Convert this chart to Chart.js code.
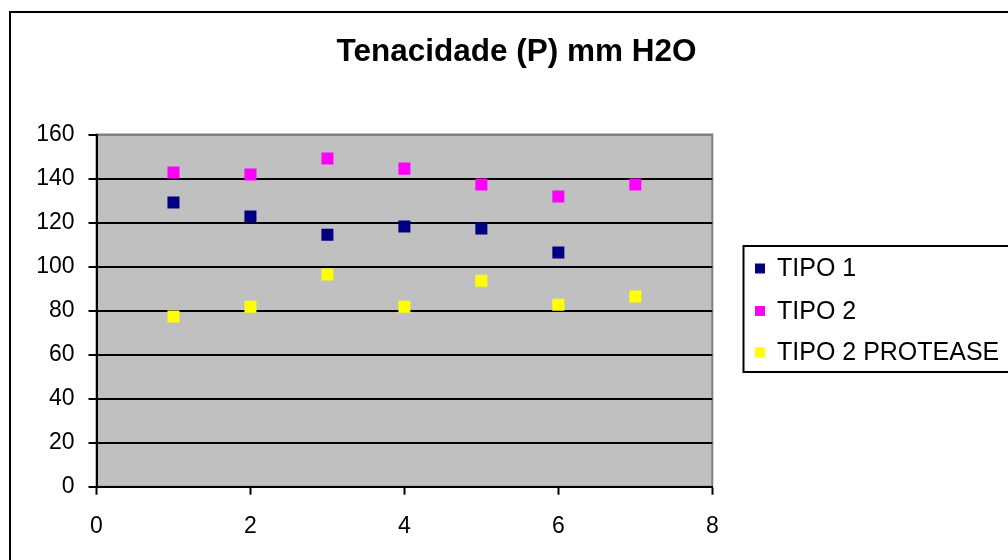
<!DOCTYPE html>
<html>
<head>
<meta charset="utf-8">
<script src="https://cdn.jsdelivr.net/npm/chart.js@4/dist/chart.umd.min.js"></script>
<style>
  html, body { margin: 0; padding: 0; background: #fff; overflow: hidden; }
  #wrap { position: relative; width: 1008px; height: 560px; overflow: hidden; }
  #frame { position: absolute; left: 9px; top: 11px; width: 1100px; height: 700px; border: 2px solid #000; }
  canvas { position: absolute; left: 0; top: 0; }
</style>
</head>
<body>
<div id="wrap">
  <div id="frame"></div>
  <canvas id="chart" width="1008" height="560"></canvas>
</div>
<script>
const chartTitle = 'Tenacidade (P) mm H2O';
const seriesNames = ['TIPO 1', 'TIPO 2', 'TIPO 2 PROTEASE'];
const seriesColors = ['#000080', '#FF00FF', '#FFFF00'];

// amostras 1..7
const amostras = [1, 2, 3, 4, 5, 6, 7];
const tipo1 = [129.1, 122.7, 114.5, 118.2, 117.3, 106.4];
const tipo2 = [142.7, 141.8, 149.1, 144.5, 137.3, 131.8, 137.3];
const tipo2Protease = [77.3, 81.8, 96.4, 81.8, 93.6, 82.7, 86.4];

const xTicks = [0, 2, 4, 6, 8];
const yTicks = [0, 20, 40, 60, 80, 100, 120, 140, 160];

function toPoints(values) {
    return values.map((v, i) => ({ x: amostras[i], y: v }));
}

const FONT = '"Liberation Sans", Arial, sans-serif';

// fundo cinza da area de plotagem
const plotBackground = {
    id: 'plotBackground',
    beforeDraw(chart) {
        const { ctx, chartArea: a } = chart;
        ctx.save();
        ctx.fillStyle = '#C0C0C0';
        ctx.fillRect(a.left, a.top, a.right - a.left, a.bottom - a.top);
        ctx.strokeStyle = '#808080';
        ctx.lineWidth = 2;
        ctx.strokeRect(a.left, a.top, a.right - a.left, a.bottom - a.top);
        ctx.restore();
    }
};

// titulo e legenda em posicao fixa
const titleAndLegend = {
    id: 'titleAndLegend',
    afterDraw(chart) {
        const ctx = chart.ctx;
        ctx.save();
        ctx.fillStyle = '#000';
        ctx.font = 'bold 31.5px ' + FONT;
        ctx.textAlign = 'center';
        ctx.textBaseline = 'middle';
        ctx.fillText(chartTitle, 516.5, 52);

        ctx.strokeStyle = '#000';
        ctx.lineWidth = 2;
        ctx.strokeRect(743.5, 246, 320, 126);

        const rows = [268.5, 311, 352.5];
        ctx.font = '25px ' + FONT;
        ctx.textAlign = 'left';
        chart.data.datasets.forEach((ds, i) => {
            ctx.fillStyle = ds.backgroundColor;
            ctx.fillRect(755, rows[i] - 5, 10, 10);
            ctx.fillStyle = '#000';
            ctx.fillText(ds.label, 777, rows[i] + 1);
        });
        ctx.restore();
    }
};

function makeDataset(i, values) {
    return {
        label: seriesNames[i],
        data: toPoints(values),
        backgroundColor: seriesColors[i],
        borderColor: seriesColors[i],
        pointStyle: 'rect',
        pointRadius: 8.5,
        pointHoverRadius: 8.5,
        pointBorderWidth: 0,
        showLine: false
    };
}

new Chart(document.getElementById('chart'), {
    type: 'scatter',
    data: {
        datasets: [
            makeDataset(0, tipo1),
            makeDataset(1, tipo2),
            makeDataset(2, tipo2Protease)
        ]
    },
    options: {
        responsive: false,
        animation: false,
        devicePixelRatio: 1,
        layout: { padding: { top: 134.5, right: 295.7, left: 0, bottom: 0 } },
        plugins: {
            legend: { display: false },
            title: { display: false },
            tooltip: { enabled: false }
        },
        scales: {
            x: {
                type: 'linear',
                min: 0,
                max: 8,
                afterBuildTicks: (scale) => { scale.ticks = xTicks.map(v => ({ value: v })); },
                afterFit: (scale) => { scale.height = 73.3; },
                ticks: { color: '#000', font: { family: FONT, size: 23 }, padding: 18 },
                grid: { drawOnChartArea: false, drawTicks: true, tickLength: 8, tickColor: '#000', tickWidth: 2 },
                border: { display: true, color: '#000', width: 2 }
            },
            y: {
                type: 'linear',
                min: 0,
                max: 160,
                afterBuildTicks: (scale) => { scale.ticks = yTicks.map(v => ({ value: v })); },
                afterFit: (scale) => { scale.width = 96.5; },
                ticks: { color: '#000', font: { family: FONT, size: 23 }, padding: 14 },
                grid: {
                    color: (ctx) => (ctx.tick && ctx.tick.value === 160) ? '#808080' : '#000',
                    lineWidth: 2,
                    tickLength: 8,
                    tickColor: '#000',
                    tickWidth: 2
                },
                border: { display: true, color: '#000', width: 2 }
            }
        }
    },
    plugins: [plotBackground, titleAndLegend]
});
</script>
</body>
</html>
